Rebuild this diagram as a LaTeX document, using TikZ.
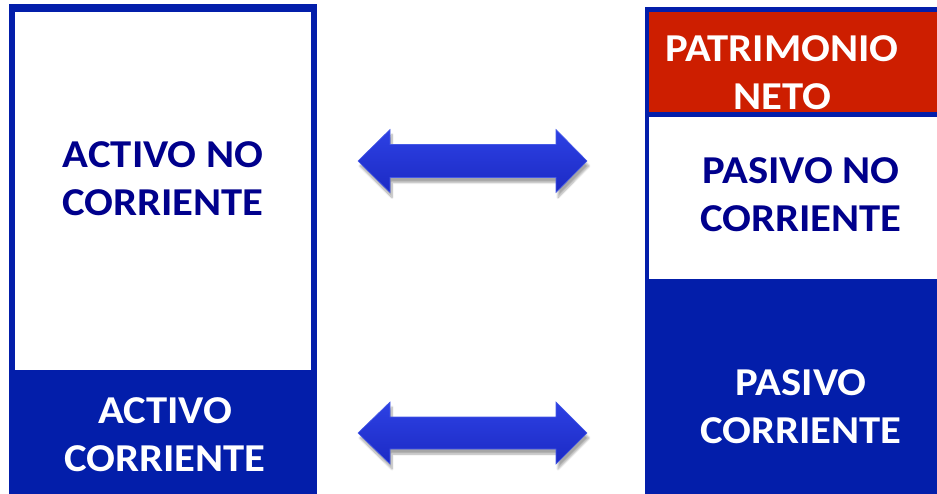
\documentclass[tikz,border=0pt]{standalone}
\usepackage{fontspec}
\setmainfont{Carlito}
\newfontfamily\labelfont[FakeStretch=1.08]{Carlito}
\usetikzlibrary{shadows.blur}
\definecolor{boxblue}{RGB}{3,30,170}
\definecolor{navytext}{RGB}{0,0,140}
\definecolor{patred}{RGB}{205,30,0}
\definecolor{arrtop}{RGB}{45,65,228}
\definecolor{arrbot}{RGB}{28,42,196}
\definecolor{arredge}{RGB}{70,90,230}
\tikzset{
  label text/.style={font=\labelfont\bfseries\fontsize{39.5}{48}\selectfont, align=center, inner sep=0pt},
  dark label/.style={label text, text=navytext},
  light label/.style={label text, text=white},
  block arrow/.style={top color=arrtop, bottom color=arrbot, draw=arredge, line width=0.6pt,
    blur shadow={shadow xshift=2pt, shadow yshift=-5pt, shadow opacity=35, shadow blur steps=8}}
}
\begin{document}
\begin{tikzpicture}[x=1pt,y=-1pt]
\useasboundingbox (0,0) rectangle (937,494);
% left column
\fill[boxblue] (9,4) rectangle (317,494);
\fill[white] (15,12.5) rectangle (311,370);
% right column
\fill[boxblue] (645,7) rectangle (937,494);
\fill[patred] (649,12) rectangle (937,112);
\fill[white] (649,117) rectangle (937,279);
% labels
\node[dark label] (anc) at (163,178.5) {ACTIVO NO\\CORRIENTE};
\node[light label] (ac) at (165,434.5) {ACTIVO\\CORRIENTE};
\node[light label] (pn) at (782,72.5) {PATRIMONIO\\NETO};
\node[dark label] (pnc) at (801,195) {PASIVO NO\\CORRIENTE};
\node[light label] (pc) at (801,406.5) {PASIVO\\CORRIENTE};
% arrows
\path[block arrow] (358,161) -- (390,129.5) -- (390,144.5) -- (556,144.5) -- (556,129.5)
  -- (587,161) -- (556,192.5) -- (556,177.5) -- (390,177.5) -- (390,192.5) -- cycle;
\path[block arrow] (358,433) -- (390,402) -- (390,417) -- (556,417) -- (556,402)
  -- (587,433) -- (556,464) -- (556,449) -- (390,449) -- (390,464) -- cycle;
\end{tikzpicture}
\end{document}
